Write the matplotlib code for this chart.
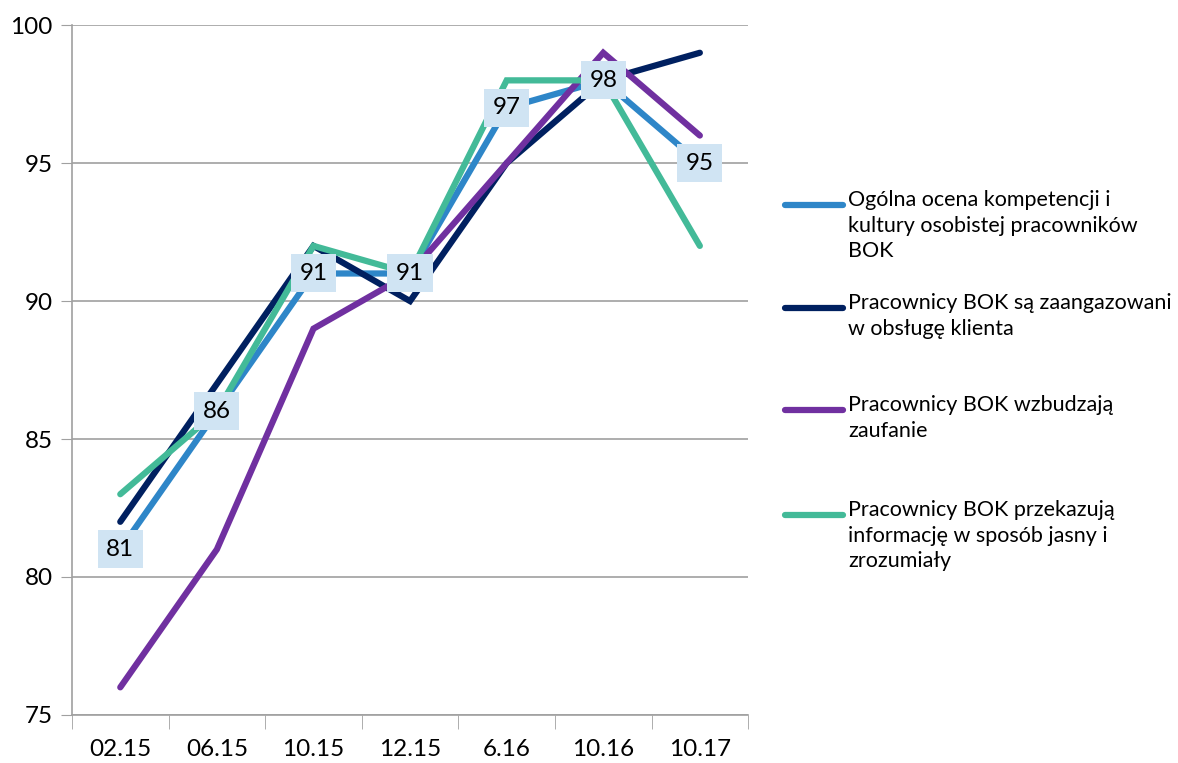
import matplotlib.pyplot as plt
from matplotlib.lines import Line2D

plt.rcParams['font.family'] = ['Lato', 'DejaVu Sans']

okresy = ['02.15', '06.15', '10.15', '12.15', '6.16', '10.16', '10.17']
ogolna = [81, 86, 91, 91, 97, 98, 95]
zaangazowani = [82, 87, 92, 90, 95, 98, 99]
zaufanie = [76, 81, 89, 91, 95, 99, 96]
informacja = [83, 86, 92, 91, 98, 98, 92]

serie = [
    ('Ogólna ocena kompetencji i\nkultury osobistej pracowników\nBOK', ogolna, '#2E86C8'),
    ('Pracownicy BOK są zaangazowani\nw obsługę klienta', zaangazowani, '#002060'),
    ('Pracownicy BOK wzbudzają\nzaufanie', zaufanie, '#7030A0'),
    ('Pracownicy BOK przekazują\ninformację w sposób jasny i\nzrozumiały', informacja, '#43BA98'),
]

fig = plt.figure(figsize=(11.78, 7.63), dpi=100)
ax = fig.add_axes([0.0611, 0.063, 0.574, 0.904])

x = list(range(len(okresy)))
for nazwa, wartosci, kolor in serie:
    ax.plot(x, wartosci, color=kolor, lw=4.5, solid_capstyle='round', solid_joinstyle='miter', zorder=3)

# etykiety danych tylko dla pierwszej serii
for xi, v in zip(x, ogolna):
    ax.text(xi, v, str(v), ha='center', va='center', fontsize=17.5, zorder=5,
            bbox=dict(boxstyle='square,pad=0.35', fc='#D0E4F3', ec='none'))

ax.set_xlim(-0.5, len(okresy) - 0.5)
ax.set_ylim(75, 100)
ax.set_yticks([75, 80, 85, 90, 95, 100])
ax.set_xticks(x)
ax.set_xticklabels(okresy)
ax.set_xticks([i - 0.5 for i in range(len(okresy) + 1)], minor=True)
ax.tick_params(axis='x', which='major', length=0, pad=17, labelsize=17.5)
ax.tick_params(axis='x', which='minor', length=10, color='#A0A0A0', direction='out')
ax.tick_params(axis='y', length=8, color='#A0A0A0', labelsize=17.5, pad=6)
ax.grid(axis='y', color='#A0A0A0', lw=1.2)
ax.set_axisbelow(True)
for s in ['top', 'right']:
    ax.spines[s].set_visible(False)
for s in ['left', 'bottom']:
    ax.spines[s].set_color('#A0A0A0')
    ax.spines[s].set_linewidth(1.2)

# legenda
pozycje = [205, 308, 410, 515]
for (nazwa, wartosci, kolor), py in zip(serie, pozycje):
    yf = 1 - py / 763
    fig.add_artist(Line2D([785 / 1178, 843 / 1178], [yf, yf], color=kolor, lw=4.5,
                          solid_capstyle='round', transform=fig.transFigure))
    fig.text(848 / 1178, yf + 15 / 763, nazwa, ha='left', va='top', fontsize=15.5,
             linespacing=1.35)

fig.savefig('out.png', dpi=100)
